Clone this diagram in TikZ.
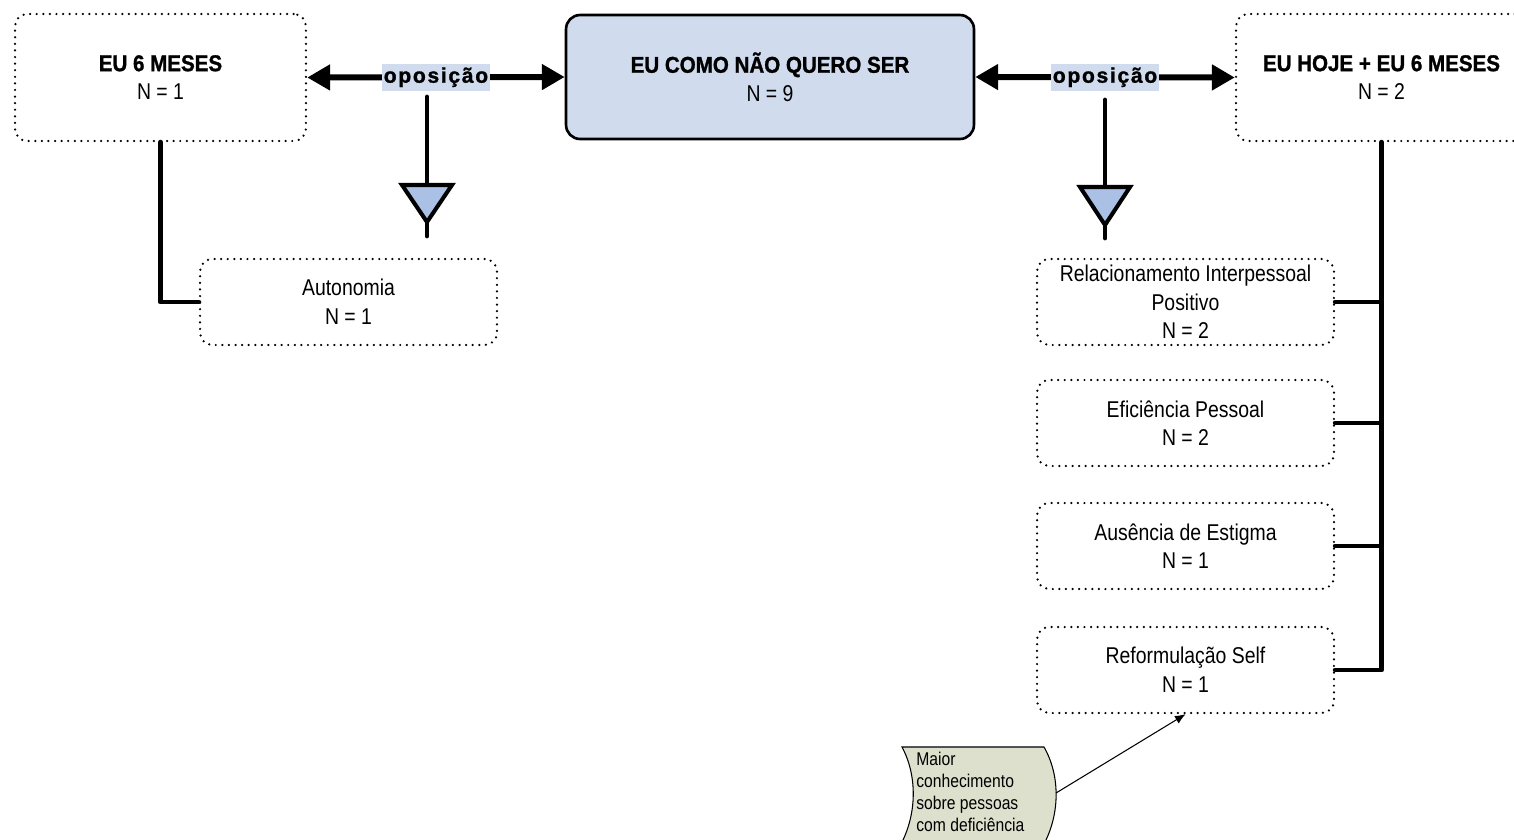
\documentclass[tikz,border=0pt]{standalone}
\usepackage{fontspec}
\setmainfont{Liberation Sans}[FakeStretch=0.85, BoldFeatures={FakeStretch=0.9, FakeBold=1.2}]
\newfontfamily\tagfont{Liberation Sans}[LetterSpace=8, BoldFeatures={FakeBold=1.2}]
\usepackage{tikz}
\usetikzlibrary{
  arrows.meta,
  calc
}
\usepackage{xcolor}

\definecolor{boxblue}{RGB}{208,220,238}
\definecolor{tagblue}{RGB}{208,219,237}
\definecolor{wedgeblue}{RGB}{170,192,228}
\definecolor{notegreen}{RGB}{221,224,204}

\newcommand{\caixafont}{\fontsize{13}{16.3}\selectfont}
\newcommand{\notafont}{\fontsize{10.5}{12.5}\selectfont}

\begin{document}
\begin{tikzpicture}[x = 0.02cm, y = -0.02cm]
  \tikzset{
    dotbox/.style = {draw, line width = 1.4pt, dash pattern = on 0pt off 3.75pt, line cap = round,
      rounded corners = 7pt, align = center, inner sep = 0pt, font = \caixafont},
    bigbox/.style = {dotbox, minimum width = 5.82cm, minimum height = 2.54cm},
    smallbox/.style = {dotbox, minimum width = 5.94cm, minimum height = 1.72cm},
    mainbox/.style = {draw, fill = boxblue, line width = 1.5pt, rounded corners = 8pt, align = center,
      inner sep = 0pt, font = \caixafont, minimum width = 8.16cm, minimum height = 2.48cm},
    dblarrow/.style = {line width = 3.4pt, {Triangle[length = 13pt, width = 14pt]}-{Triangle[length = 13pt, width = 14pt]}},
    tag/.style = {fill = tagblue, inner xsep = 1pt, inner ysep = 2pt, minimum height = 14.7pt,
      font = \tagfont\bfseries\fontsize{12}{13}\selectfont},
    link/.style = {line width = 2.8pt, line cap = round, line join = round},
    wedge/.style = {draw, fill = wedgeblue, line width = 2.3pt, line join = miter},
    pointer/.style = {line width = 0.6pt, -{Latex[length = 6pt, width = 5pt]}},
    notetext/.style = {align = left, inner sep = 0pt, font = \notafont}
  }

  \useasboundingbox (0,0) rectangle (1514,839);

  % top row
  \node[bigbox] (euSeis) at (160.5,77.5) {\textbf{EU 6 MESES}\\N = 1};
  \node[mainbox] (naoQuero) at (770,77) {\textbf{EU COMO NÃO QUERO SER}\\N = 9};
  \node[bigbox] (euHoje) at (1381.5,77.5) {\textbf{EU HOJE + EU 6 MESES}\\N = 2};

  \draw[dblarrow] (euSeis.east) -- (naoQuero.west) node[tag, midway] (opEsq) {oposição};
  \draw[dblarrow] (naoQuero.east) -- (euHoje.west) node[tag, midway] (opDir) {oposição};

  % categories
  \node[smallbox] (autonomia) at (348.5,302) {Autonomia\\N = 1};
  \node[smallbox] (relInter) at (1185.5,302) {Relacionamento Interpessoal\\Positivo\\N = 2};
  \node[smallbox] (eficiencia) at (1185.5,423) {Eficiência Pessoal\\N = 2};
  \node[smallbox] (ausencia) at (1185.5,546) {Ausência de Estigma\\N = 1};
  \node[smallbox] (reform) at (1185.5,670) {Reformulação Self\\N = 1};

  % stems under the oposição tags
  \coordinate (stemEsq) at (427,97);
  \coordinate (footEsq) at (427,236);
  \coordinate (stemDir) at (1105,100);
  \coordinate (footDir) at (1105,238);
  \draw[link] (stemEsq) -- (footEsq);
  \draw[link] (stemDir) -- (footDir);
  \draw[wedge] (402,185) -- (452,185) -- (427,222) -- cycle;
  \draw[wedge] (1080,187) -- (1130,187) -- (1105,225) -- cycle;

  \draw[link] (euSeis.south) |- (autonomia.west);
  \draw[link] (euHoje.south) |- (reform.east);
  \foreach \cat in {relInter, eficiencia, ausencia}
    \draw[link] (\cat.east) -- (\cat.east -| euHoje.south);

  % note
  \filldraw[fill = notegreen, line width = 0.6pt]
    (902,747) -- (1044,747) .. controls (1060,775) and (1060,812) .. (1045,842)
    -- (902,842) .. controls (917,812) and (917,775) .. (902,747) -- cycle;
  \coordinate (noteTip) at (1056,793);
  \node[notetext, anchor = north west] (noteTxt) at (916,752)
    {Maior\\conhecimento\\sobre pessoas\\com deficiência};
  \draw[pointer] (noteTip) -- (reform.south);
\end{tikzpicture}
\end{document}
